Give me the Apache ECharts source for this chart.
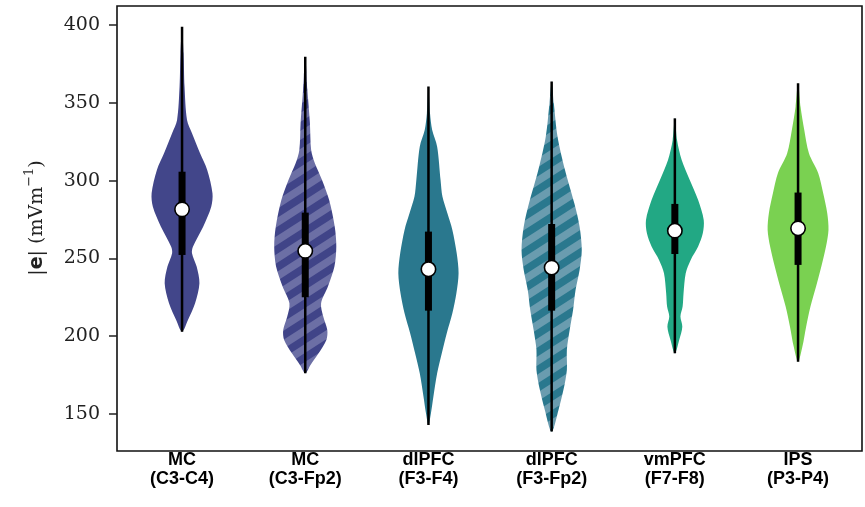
<!DOCTYPE html>
<html><head><meta charset="utf-8">
<script src="https://cdn.jsdelivr.net/npm/echarts@6/dist/echarts.min.js"></script>
<style>html,body{margin:0;padding:0;background:#fff}#c{width:865px;height:507px}</style>
</head><body><div id="c"></div>
<script>
// ---------- data ----------
const categories = ['MC\n(C3-C4)', 'MC\n(C3-Fp2)', 'dlPFC\n(F3-F4)', 'dlPFC\n(F3-Fp2)', 'vmPFC\n(F7-F8)', 'IPS\n(P3-P4)'];
const whiskerLow  = [202.9, 176.2, 142.9, 138.7, 189.0, 183.6];
const quartile1   = [252.2, 225.0, 216.4, 216.4, 252.8, 245.8];
const medians     = [281.5, 254.8, 243.0, 244.1, 267.8, 269.3];
const quartile3   = [305.7, 279.4, 267.2, 272.1, 285.0, 292.3];
const whiskerHigh = [398.9, 379.6, 360.4, 363.6, 340.0, 362.5];
const yTicks = [150, 200, 250, 300, 350, 400];

// kernel density profiles (value, relative density)
const kdeValuesMC1 = [398.9, 381.8, 360.4, 338.9, 330.4, 317.5, 306.8, 291.8, 283.2, 270.4, 257.5, 253.3, 244.7, 234.0, 221.1, 210.4, 202.9];
const kdeDensityMC1 = [0, .05, .08, .16, .32, .58, .81, .98, .94, .68, .35, .32, .47, .56, .42, .19, 0];
const kdeValuesMC2 = [379.6, 358.2, 336.8, 319.7, 311.1, 300.4, 287.5, 270.4, 257.6, 244.7, 231.9, 221.2, 212.6, 204.0, 197.6, 189.0, 181.5, 176.2];
const kdeDensityMC2 = [0, .07, .15, .19, .31, .54, .77, .95, 1.0, .94, .73, .51, .58, .71, .68, .43, .17, 0];
const kdeValuesDL1 = [360.4, 343.2, 332.5, 321.8, 300.4, 289.7, 279.0, 268.3, 253.3, 240.4, 227.6, 214.7, 201.9, 189.0, 176.1, 161.2, 150.4, 142.9];
const kdeDensityDL1 = [0, .05, .12, .28, .39, .45, .61, .77, .91, .97, .90, .77, .59, .43, .28, .16, .08, 0];
const kdeValuesDL2 = [363.6, 349.7, 328.2, 306.8, 285.4, 270.4, 255.4, 242.6, 229.7, 216.9, 204.0, 191.2, 178.3, 165.5, 152.6, 138.7];
const kdeDensityDL2 = [0, .07, .19, .43, .73, .90, .97, .90, .77, .69, .58, .49, .49, .38, .22, 0];
const kdeValuesVM = [340.0, 326.1, 313.2, 300.4, 287.5, 274.7, 266.1, 257.6, 249.0, 240.4, 227.6, 219.0, 212.6, 206.1, 197.6, 189.0];
const kdeDensityVM = [0, .07, .22, .48, .75, .93, .90, .75, .51, .35, .28, .25, .18, .24, .14, 0];
const kdeValuesIPS = [362.5, 347.5, 332.5, 317.5, 304.7, 291.8, 279.0, 268.3, 257.6, 244.7, 231.9, 219.0, 206.1, 193.3, 183.6];
const kdeDensityIPS = [0, .08, .20, .35, .65, .81, .94, .98, .90, .75, .58, .40, .26, .14, 0];

const kdeValues = [kdeValuesMC1, kdeValuesMC2, kdeValuesDL1, kdeValuesDL2, kdeValuesVM, kdeValuesIPS];
const kdeDensity = [kdeDensityMC1, kdeDensityMC2, kdeDensityDL1, kdeDensityDL2, kdeDensityVM, kdeDensityIPS];

// ---------- styling ----------
const MAX_HALF = 0.252; // half width (category units) at density 1
function stripes(dark, light) {
  const W = 28, H = 18;
  const c = document.createElement('canvas');
  c.width = W; c.height = H;
  const ctx = c.getContext('2d');
  ctx.fillStyle = dark; ctx.fillRect(0, 0, W, H);
  ctx.fillStyle = light;
  for (let k = -1; k <= 2; k++) {
    ctx.beginPath();
    ctx.moveTo(k * W, 0);
    ctx.lineTo((k + 0.5) * W, 0);
    ctx.lineTo((k - 0.5) * W, H);
    ctx.lineTo((k - 1) * W, H);
    ctx.closePath();
    ctx.fill();
  }
  return { image: c, repeat: 'repeat' };
}
const fills = [
  '#42468a',
  stripes('#404488', '#6c6fa5'),
  '#2a788e',
  stripes('#2a788e', '#6a9caf'),
  '#22a884',
  '#7ad151'
];

const chart = echarts.init(document.getElementById('c'), null, { renderer: 'canvas' });

function renderItem(params, api) {
  const i = api.value(0);
  const vals = kdeValues[i], dens = kdeDensity[i];
  const right = vals.map((v, k) => api.coord([i + dens[k] * MAX_HALF, v]));
  const left = vals.map((v, k) => api.coord([i - dens[k] * MAX_HALF, v])).slice(1, -1).reverse();
  const pts = right.concat(left);
  const top = api.coord([i, whiskerHigh[i]]);
  const bot = api.coord([i, whiskerLow[i]]);
  const b3 = api.coord([i, quartile3[i]]);
  const b1 = api.coord([i, quartile1[i]]);
  const m = api.coord([i, medians[i]]);
  const bw = 7;
  return {
    type: 'group',
    children: [
      { type: 'polygon', shape: { points: pts, smooth: 0.3 }, style: { fill: fills[i], stroke: null } },
      { type: 'line', shape: { x1: top[0], y1: top[1], x2: bot[0], y2: bot[1] }, style: { stroke: '#000', lineWidth: 2.5 } },
      { type: 'rect', shape: { x: b3[0] - bw / 2, y: b3[1], width: bw, height: b1[1] - b3[1] }, style: { fill: '#000' } },
      { type: 'circle', shape: { cx: m[0], cy: m[1], r: 7.2 }, style: { fill: '#fff', stroke: '#000', lineWidth: 1.6 } }
    ]
  };
}

chart.setOption({
  animation: false,
  grid: { left: 117, right: 3, top: 6, bottom: 56, show: true, borderColor: '#111', borderWidth: 1.6, backgroundColor: 'transparent' },
  xAxis: {
    type: 'value', min: -0.528, max: 5.519,
    axisLine: { show: false, onZero: false }, axisTick: { show: false }, splitLine: { show: false },
    axisLabel: {
      customValues: [0, 1, 2, 3, 4, 5],
      formatter: v => categories[Math.round(v)],
      fontFamily: "'Liberation Sans Narrow', 'Liberation Sans', sans-serif",
      fontWeight: 'bold', fontSize: 18, lineHeight: 19, color: '#000', margin: 0
    }
  },
  yAxis: {
    type: 'value', min: 126.2, max: 412.2,
    axisLine: { show: false, onZero: false }, splitLine: { show: false },
    axisTick: { show: true, customValues: yTicks, length: 8, lineStyle: { color: '#222', width: 1.5 } },
    axisLabel: { customValues: yTicks, fontFamily: "'DejaVu Serif', serif", fontSize: 19, color: '#222', margin: 17 }
  },
  graphic: [{
    type: 'text', x: 37, y: 218, rotation: Math.PI / 2,
    style: {
      text: '{s||}{b|e}{s|| (mVm}{sup|−1}{s|)}',
      textAlign: 'center', verticalAlign: 'middle',
      rich: {
        s: { fontFamily: "'DejaVu Serif', serif", fontSize: 19, lineHeight: 28, fill: '#222' },
        b: { fontFamily: "'DejaVu Sans', sans-serif", fontWeight: 'bold', fontSize: 19, lineHeight: 28, fill: '#222' },
        sup: { fontFamily: "'DejaVu Serif', serif", fontSize: 13, lineHeight: 13, verticalAlign: 'top', fill: '#222' }
      }
    }
  }],
  series: [{
    type: 'custom',
    renderItem: renderItem,
    encode: { x: 0, y: 1 },
    data: categories.map((c, i) => [i, medians[i]]),
    clip: false
  }]
});
</script>
</body></html>
